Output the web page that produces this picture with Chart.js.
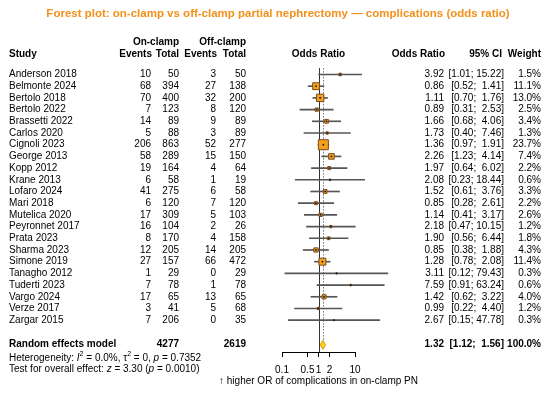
<!DOCTYPE html>
<html>
<head>
<meta charset="utf-8">
<title>Forest plot</title>
<style>
    html, body { margin: 0; padding: 0; background: #fff; }
</style>
<script src="https://cdn.jsdelivr.net/npm/chart.js@4.4.1/dist/chart.umd.min.js"></script>
</head>
<body>
<canvas id="forestChart" width="550" height="394"></canvas>
<script>
// du lieu tu bang
var studies = ['Anderson 2018', 'Belmonte 2024', 'Bertolo 2018', 'Bertolo 2022', 'Brassetti 2022', 'Carlos 2020',
    'Cignoli 2023', 'George 2013', 'Kopp 2012', 'Krane 2013', 'Lofaro 2024', 'Mari 2018', 'Mutelica 2020',
    'Peyronnet 2017', 'Prata 2023', 'Sharma 2023', 'Simone 2019', 'Tanagho 2012', 'Tuderti 2023',
    'Vargo 2024', 'Verze 2017', 'Zargar 2015'];
var onEvents = [10, 68, 70, 7, 14, 5, 206, 58, 19, 6, 41, 6, 17, 16, 8, 12, 27, 1, 7, 17, 3, 7];
var onTotals = [50, 394, 400, 123, 89, 88, 863, 289, 164, 58, 275, 120, 309, 104, 170, 205, 157, 29, 78, 65, 41, 206];
var offEvents = [3, 27, 32, 8, 9, 3, 52, 15, 4, 1, 6, 7, 5, 2, 4, 14, 66, 0, 1, 13, 5, 0];
var offTotals = [50, 138, 200, 120, 89, 89, 277, 150, 64, 19, 58, 120, 103, 26, 158, 205, 472, 29, 78, 65, 68, 35];
var oddsRatio = [3.92, 0.86, 1.11, 0.89, 1.66, 1.73, 1.36, 2.26, 1.97, 2.08, 1.52, 0.85, 1.14, 2.18, 1.90, 0.85, 1.28, 3.11, 7.59, 1.42, 0.99, 2.67];
var ciLower = [1.01, 0.52, 0.70, 0.31, 0.68, 0.40, 0.97, 1.23, 0.64, 0.23, 0.61, 0.28, 0.41, 0.47, 0.56, 0.38, 0.78, 0.12, 0.91, 0.62, 0.22, 0.15];
var ciUpper = [15.22, 1.41, 1.76, 2.53, 4.06, 7.46, 1.91, 4.14, 6.02, 18.44, 3.76, 2.61, 3.17, 10.15, 6.44, 1.88, 2.08, 79.43, 63.24, 3.22, 4.40, 47.78];
var weights = [1.5, 11.1, 13.0, 2.5, 3.4, 1.3, 23.7, 7.4, 2.2, 0.6, 3.3, 2.2, 2.6, 1.2, 1.8, 4.3, 11.4, 0.3, 0.6, 4.0, 1.2, 0.3];
var pooled = [1.32, 1.12, 1.56];      // OR, lower, upper
var pooledTotals = [4277, 2619];
var axisTicks = [0.1, 0.5, 1, 2, 10];
var axisTickLabels = ['0.1', '0.5', '1', '2', '10'];

var FONT = '"Liberation Sans", Arial, Helvetica, sans-serif';
var pooledRow = 23.1;

function put(c, s, x, y, align, style) {
    c.font = (style ? style + ' ' : '') + '10px ' + FONT;
    c.textAlign = align || 'left';
    c.fillText(s, x, y);
}

// chu nghieng / chi so tren
function putRich(c, parts, x, y) {
    c.textAlign = 'left';
    parts.forEach(function (p) {
        var sup = p[1] === 'sup';
        c.font = (p[1] === 'i' ? 'italic ' : '') + (sup ? '7px ' : '10px ') + FONT;
        c.fillText(p[0], x, sup ? y - 4 : y);
        x += c.measureText(p[0]).width;
    });
}

function fmtCI(lo, hi) {
    var h = hi.toFixed(2);
    while (h.length < 5) h = ' ' + h;
    return '[' + lo.toFixed(2) + '; ' + h + ']';
}

var forestPlugin = {
    id: 'forestPlugin',
    beforeDatasetsDraw: function (chart) {
        var c = chart.ctx, xs = chart.scales.x, ys = chart.scales.y;
        var top = ys.getPixelForValue(-0.55);
        var x1 = Math.round(xs.getPixelForValue(1)) + 0.5;
        var xp = Math.round(xs.getPixelForValue(pooled[0])) + 0.5;
        c.save();
        c.lineWidth = 1;
        c.strokeStyle = '#333';
        c.beginPath();
        c.moveTo(x1, top);
        c.lineTo(x1, chart.chartArea.bottom);
        c.stroke();
        c.strokeStyle = '#777';
        c.setLineDash([1.5, 1.5]);
        c.beginPath();
        c.moveTo(xp, top);
        c.lineTo(xp, ys.getPixelForValue(pooledRow) - 4);
        c.stroke();
        c.restore();
    },
    afterDatasetsDraw: function (chart) {
        // kim cuong cho mo hinh tong hop
        var c = chart.ctx, xs = chart.scales.x, ys = chart.scales.y;
        var y = ys.getPixelForValue(pooledRow);
        c.save();
        c.beginPath();
        c.moveTo(xs.getPixelForValue(pooled[1]), y);
        c.lineTo(xs.getPixelForValue(pooled[0]), y - 4.5);
        c.lineTo(xs.getPixelForValue(pooled[2]), y);
        c.lineTo(xs.getPixelForValue(pooled[0]), y + 4.5);
        c.closePath();
        c.fillStyle = '#ffd31a';
        c.fill();
        c.strokeStyle = '#d59a00';
        c.lineWidth = 1;
        c.stroke();
        c.restore();
    },
    afterDraw: function (chart) {
        var c = chart.ctx, ys = chart.scales.y;
        var area = chart.chartArea;
        var mid = (area.left + area.right) / 2;
        c.save();
        c.textBaseline = 'middle';

        // tieu de
        c.fillStyle = '#f39019';
        c.font = 'bold 11.5px ' + FONT;
        c.textAlign = 'center';
        c.fillText('Forest plot: on-clamp vs off-clamp partial nephrectomy \u2014 complications (odds ratio)', 278, 13.5);
        c.fillStyle = '#000';

        // header
        var h1 = ys.getPixelForValue(-2.78), h2 = ys.getPixelForValue(-1.7);
        put(c, 'On-clamp', 179, h1, 'right', 'bold');
        put(c, 'Off-clamp', 246, h1, 'right', 'bold');
        put(c, 'Study', 9, h2, 'left', 'bold');
        put(c, 'Events', 152, h2, 'right', 'bold');
        put(c, 'Total', 179, h2, 'right', 'bold');
        put(c, 'Events', 217, h2, 'right', 'bold');
        put(c, 'Total', 246, h2, 'right', 'bold');
        put(c, 'Odds Ratio', mid, h2, 'center', 'bold');
        put(c, 'Odds Ratio', 445, h2, 'right', 'bold');
        put(c, '95% CI', 502, h2, 'right', 'bold');
        put(c, 'Weight', 541, h2, 'right', 'bold');

        // cac dong nghien cuu
        studies.forEach(function (s, i) {
            var y = ys.getPixelForValue(i);
            put(c, s, 9, y, 'left');
            put(c, String(onEvents[i]), 151, y, 'right');
            put(c, String(onTotals[i]), 179, y, 'right');
            put(c, String(offEvents[i]), 216, y, 'right');
            put(c, String(offTotals[i]), 246, y, 'right');
            put(c, oddsRatio[i].toFixed(2), 444, y, 'right');
            put(c, fmtCI(ciLower[i], ciUpper[i]), 504, y, 'right');
            put(c, weights[i].toFixed(1) + '%', 541, y, 'right');
        });

        // tong hop
        var yp = ys.getPixelForValue(pooledRow);
        put(c, 'Random effects model', 9, yp, 'left', 'bold');
        put(c, String(pooledTotals[0]), 179, yp, 'right', 'bold');
        put(c, String(pooledTotals[1]), 246, yp, 'right', 'bold');
        put(c, pooled[0].toFixed(2), 444, yp, 'right', 'bold');
        put(c, fmtCI(pooled[1], pooled[2]), 504, yp, 'right', 'bold');
        put(c, '100.0%', 541, yp, 'right', 'bold');

        putRich(c, [['Heterogeneity: ', ''], ['I', 'i'], ['2', 'sup'], [' = 0.0%, \u03c4', ''], ['2', 'sup'],
            [' = 0, ', ''], ['p', 'i'], [' = 0.7352', '']], 9, ys.getPixelForValue(24.23));
        putRich(c, [['Test for overall effect: ', ''], ['z', 'i'], [' = 3.30 (', ''], ['p', 'i'], [' = 0.0010)', '']],
            9, ys.getPixelForValue(25.17));

        put(c, '\u2191 higher OR of complications in on-clamp PN', mid, 381, 'center');
        c.restore();
    }
};

var ciData = studies.map(function (s, i) { return { x: [ciLower[i], ciUpper[i]], y: i }; });
var orData = studies.map(function (s, i) { return { x: oddsRatio[i], y: i }; });
// canh hinh vuong ~ can bac hai trong so
var squareRadius = weights.map(function (w) { return 10 * Math.sqrt(w / 23.7) / Math.SQRT2; });

var ctx = document.getElementById('forestChart').getContext('2d');
var forestChart = new Chart(ctx, {
    type: 'bar',
    data: {
        datasets: [{
            label: '95% CI',
            indexAxis: 'y',
            data: ciData,
            backgroundColor: '#555',
            borderWidth: 0,
            barThickness: 1,
            grouped: false,
            clip: false,
            order: 3
        }, {
            type: 'scatter',
            label: 'Weight',
            data: orData,
            pointStyle: 'rect',
            pointRadius: squareRadius,
            backgroundColor: '#f5a11a',
            borderColor: '#7a4a22',
            borderWidth: 1,
            clip: false,
            order: 2
        }, {
            type: 'scatter',
            label: 'Odds Ratio',
            data: orData,
            pointStyle: 'rect',
            pointRadius: 1.1,
            backgroundColor: '#111',
            borderWidth: 0,
            clip: false,
            order: 1
        }]
    },
    options: {
        responsive: false,
        animation: false,
        devicePixelRatio: 1,
        layout: { padding: { left: 282, right: 195, top: 62.8, bottom: 11 } },
        plugins: {
            legend: { display: false },
            tooltip: { enabled: false }
        },
        scales: {
            x: {
                type: 'logarithmic',
                min: 0.1,
                max: 10,
                offset: false,
                afterBuildTicks: function (scale) {
                    scale.ticks = axisTicks.map(function (v) { return { value: v }; });
                },
                ticks: {
                    autoSkip: false,
                    maxRotation: 0,
                    padding: 7,
                    color: '#000',
                    font: { size: 10, family: FONT },
                    callback: function (value) {
                        var k = axisTicks.indexOf(value);
                        return k >= 0 ? axisTickLabels[k] : '';
                    }
                },
                grid: { drawOnChartArea: false, drawTicks: true, tickLength: 5, color: '#000', offset: false },
                border: { display: true, color: '#000' }
            },
            y: {
                type: 'linear',
                reverse: true,
                offset: false,
                min: -1,
                max: 23.72,
                display: false
            }
        }
    },
    plugins: [forestPlugin]
});
</script>
</body>
</html>
